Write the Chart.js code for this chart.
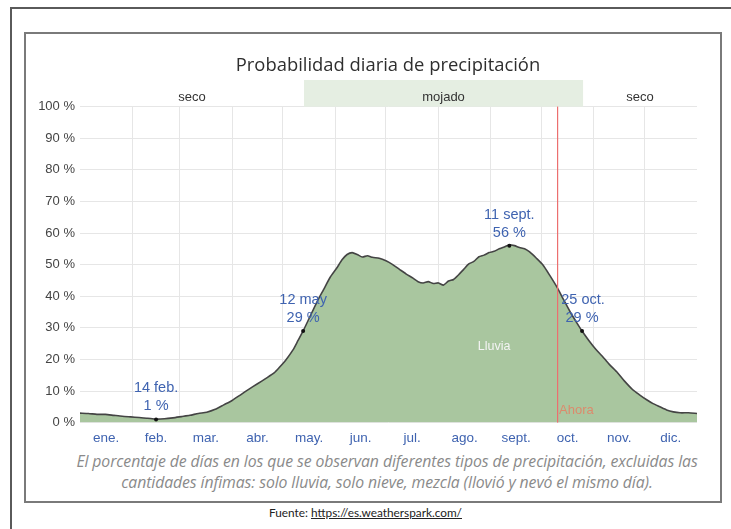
<!DOCTYPE html>
<html>
<head>
<meta charset="utf-8">
<script src="https://cdn.jsdelivr.net/npm/chart.js@4.4.1/dist/chart.umd.min.js"></script>
<style>
  html,body{margin:0;padding:0;background:#fff;width:731px;height:529px;overflow:hidden;position:relative;}
  #outer{position:absolute;left:10px;top:7px;width:740px;height:540px;border:2px solid #5a5a5a;border-right:none;border-bottom:none;box-sizing:border-box;}
  #card{position:absolute;left:24px;top:32px;width:698px;height:471px;border:2px solid #7a7a7a;box-sizing:border-box;background:#fff;}
  #cv{position:absolute;left:27px;top:35px;}
  #cap{position:absolute;left:0;top:451px;width:776px;margin-left:-1px;text-align:center;font-family:"Open Sans",sans-serif;font-style:italic;font-size:15.8px;line-height:21px;color:#8a8a8a;letter-spacing:-0.1px;}
  #src{position:absolute;left:0;top:505px;width:731px;text-align:center;font-family:Lato,sans-serif;font-size:11.8px;color:#222;}
  #src u{text-decoration:underline;}
</style>
</head>
<body>
<div id="outer"></div>
<div id="card"></div>
<canvas id="cv" width="692" height="415"></canvas>
<div id="cap">El porcentaje de días en los que se observan diferentes tipos de precipitación, excluidas las<br>cantidades ínfimas: solo lluvia, solo nieve, mezcla (llovió y nevó el mismo día).</div>
<div id="src">Fuente: <u>https://es.weatherspark.com/</u></div>
<script>
// ---- data ----
const monthLabels = ['ene.','feb.','mar.','abr.','may.','jun.','jul.','ago.','sept.','oct.','nov.','dic.'];
const monthStarts = [0,31,59,90,120,151,181,212,243,273,304,334,365];
const yTicks = [0,10,20,30,40,50,60,70,80,90,100];
const dayOfYear = [0,5,10,15,20,25,30,35,40,45,50,55,60,65,70,75,80,85,90,95,100,105,110,115,118,122,126,129,132,136,140,144,148,152,155,158,161,164,167,170,173,177,181,185,189,193,197,200,203,206,209,212,215,218,221,224,227,230,233,236,239,242,245,248,251,254,257,260,263,266,270,274,278,282,286,290,294,297,301,305,309,313,318,322,327,331,335,339,343,347,351,355,360,365];
const rainPct = [3.0,2.9,2.6,2.6,2.3,2.0,1.8,1.6,1.4,1.1,1.2,1.5,1.9,2.3,2.9,3.3,4.2,5.6,7.0,8.8,10.6,12.3,14.0,15.8,17.5,20,23,26,29,33.5,38,42,46,49,51.5,53.2,53.8,53.2,52.4,52.8,52.3,52,51.2,50,48.5,47,45.7,44.6,44.2,44.6,44.0,44.2,43.5,44.8,45.3,46.8,48.5,50.2,51,52.5,53,53.8,54.2,55,55.6,56.3,56,55.4,55,54,52,49.8,46.5,43,39,35,31.5,29,26,23.3,21,18.5,15.8,13.2,10.4,8.8,7.3,6.0,5.0,4.0,3.4,3.1,3.1,2.9];
const annotDays = [45,132,254,297];
const annotVals = [1,29,56,29];
const annotLabels = ['14 feb.','12 may','11 sept.','25 oct.'];
const seasonBands = [{from:0,to:132.5,label:'seco',wet:false},{from:132.5,to:297.6,label:'mojado',wet:true},{from:297.6,to:365,label:'seco',wet:false}];
const nowDay = 282;
const titleText = 'Probabilidad diaria de precipitación';

const monthMids = monthLabels.map((_, i) => (monthStarts[i] + monthStarts[i+1]) / 2);
const points = dayOfYear.map((d, i) => ({x: d, y: rainPct[i]}));

const decor = {
  id: 'decor',
  beforeDatasetsDraw(chart) {
    const {ctx, chartArea: a, scales: {x}} = chart;
    ctx.save();
    ctx.fillStyle = '#2e2e2e';
    ctx.font = '18.4px "Open Sans", sans-serif';
    ctx.textAlign = 'center'; ctx.textBaseline = 'middle';
    ctx.fillText(titleText, 361, 31);
    ctx.font = '13px "Liberation Sans", Arial, sans-serif';
    seasonBands.forEach(b => {
      const x0 = x.getPixelForValue(b.from), x1 = x.getPixelForValue(b.to);
      if (b.wet) { ctx.fillStyle = '#e5eee2'; ctx.fillRect(x0, 45, x1 - x0, a.top - 45); }
      ctx.fillStyle = '#333';
      ctx.fillText(b.label, (x0 + x1) / 2, 62);
    });
    ctx.restore();
  },
  afterDatasetsDraw(chart) {
    const {ctx, chartArea: a, scales: {x, y}} = chart;
    ctx.save();
    const nx = Math.round(x.getPixelForValue(nowDay));
    ctx.fillStyle = '#ec6f6f';
    ctx.fillRect(nx, a.top, 1.2, a.bottom - a.top);
    ctx.fillStyle = '#dc8a6c';
    ctx.font = '13px "Liberation Sans", Arial, sans-serif';
    ctx.textAlign = 'left'; ctx.textBaseline = 'middle';
    ctx.fillText('Ahora', nx + 2, 375);
    ctx.fillStyle = '#f4f4f4';
    ctx.textAlign = 'center';
    ctx.font = '12.5px "Liberation Sans", Arial, sans-serif';
    ctx.fillText('Lluvia', x.getPixelForValue(245), 312);
    ctx.font = '14.5px "Liberation Sans", Arial, sans-serif';
    annotDays.forEach((d, i) => {
      const px = x.getPixelForValue(d), py = y.getPixelForValue(annotVals[i]);
      ctx.fillStyle = '#111';
      ctx.beginPath(); ctx.arc(px, py, 2, 0, Math.PI * 2); ctx.fill();
      ctx.fillStyle = '#3f63b0';
      ctx.textAlign = 'center';
      ctx.fillText(annotLabels[i], px + (i === 3 ? 1 : 0), py - 31);
      ctx.fillText(annotVals[i] + ' %', px, py - 13);
    });
    ctx.restore();
  }
};

new Chart(document.getElementById('cv'), {
  type: 'line',
  data: {
    datasets: [{
      label: 'Lluvia',
      data: points,
      borderColor: '#444',
      borderWidth: 1.6,
      backgroundColor: '#a9c69f',
      fill: 'origin',
      pointRadius: 0,
      tension: 0.2
    }]
  },
  options: {
    responsive: false,
    animation: false,
    devicePixelRatio: 1,
    layout: {padding: {top: 71.6, right: 22, left: 0, bottom: 0}},
    plugins: {legend: {display: false}, tooltip: {enabled: false}, title: {display: false}},
    scales: {
      x: {
        type: 'linear', min: 0, max: 365, position: 'bottom',
        grid: {display: false}, border: {display: false},
        afterBuildTicks: s => { s.ticks = monthMids.map(v => ({value: v})); },
        afterFit: s => { s.height = 27.4; },
        ticks: {
          autoSkip: false, maxRotation: 0, padding: 0, color: '#3f63b0',
          font: {size: 13.5, family: '"Liberation Sans", Arial, sans-serif'},
          callback: (v, i) => monthLabels[i]
        }
      },
      xGrid: {
        type: 'linear', min: 0, max: 365, position: 'bottom', axis: 'x',
        border: {display: false},
        grid: {color: '#e6e6e6', drawTicks: false},
        afterBuildTicks: s => { s.ticks = monthStarts.slice(1, 12).map(v => ({value: v})); },
        afterFit: s => { s.height = 0; },
        ticks: {display: false}
      },
      y: {
        min: 0, max: 100,
        border: {display: false},
        grid: {color: '#e6e6e6', drawTicks: false},
        afterBuildTicks: s => { s.ticks = yTicks.map(v => ({value: v})); },
        afterFit: s => { s.width = 53; },
        ticks: {
          padding: 5, color: '#444',
          font: {size: 13, family: '"Liberation Sans", Arial, sans-serif'},
          callback: v => v + ' %'
        }
      }
    }
  },
  plugins: [decor]
});
</script>
</body>
</html>
